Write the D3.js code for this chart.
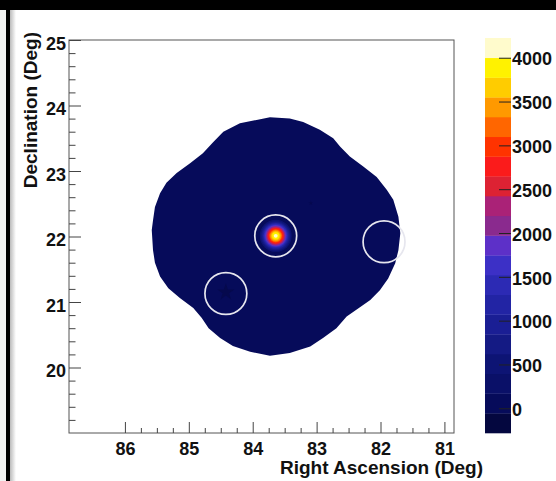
<!DOCTYPE html>
<html>
<head>
<meta charset="utf-8">
<script src="https://cdn.jsdelivr.net/npm/d3@7"></script>
<style>
  body { margin: 0; background: #fff; }
  svg { display: block; }
  text { font-family: "Liberation Sans", Arial, sans-serif; font-weight: bold; fill: #111; }
</style>
</head>
<body>
<svg id="chart" width="556" height="481"></svg>
<script>
// axis ticks
var raTicks = [86, 85, 84, 83, 82, 81];
var decTicks = [20, 21, 22, 23, 24, 25];
var zTicks = [0, 500, 1000, 1500, 2000, 2500, 3000, 3500, 4000];
var zRange = [-282, 4225];

// 20 colour levels, lowest first
var palette = ["#04073f", "#060b5a", "#0a1068", "#0d1474", "#141a84", "#1a1e94", "#2224a4",
  "#2c2ab4", "#3c30c6", "#5d30c8", "#8a2a8e", "#aa2277", "#dd2233", "#fb1b1b", "#ff3300",
  "#ff6600", "#ff9900", "#ffcc00", "#fff200", "#fffbcc"];

// outline of the exposed sky region (RA, Dec)
var regionRA = [83.73, 83.42, 83.21, 82.95, 82.74, 82.63, 82.48, 82.27, 82.06, 81.90, 81.80, 81.72,
  81.69, 81.72, 81.77, 81.88, 82.01, 82.16, 82.35, 82.53, 82.69, 82.90, 83.10, 83.42, 83.73,
  84.04, 84.31, 84.51, 84.69, 84.80, 84.93, 85.14, 85.32, 85.45, 85.53, 85.56, 85.58, 85.56,
  85.53, 85.45, 85.35, 85.19, 84.98, 84.78, 84.62, 84.46, 84.20, 83.94];
var regionDec = [23.82, 23.80, 23.75, 23.63, 23.50, 23.37, 23.22, 23.07, 22.91, 22.71, 22.56, 22.30,
  22.05, 21.79, 21.59, 21.36, 21.18, 21.03, 20.90, 20.78, 20.60, 20.45, 20.32, 20.22, 20.18,
  20.24, 20.33, 20.45, 20.60, 20.76, 20.91, 21.06, 21.21, 21.39, 21.60, 21.79, 22.10, 22.25,
  22.45, 22.66, 22.82, 22.97, 23.12, 23.27, 23.44, 23.60, 23.73, 23.78];
var backgroundValue = 0;

// bright source: radius (deg) out to which each value holds
var hotRA = 83.64, hotDec = 22.01;
var hotRadius = [0.244, 0.224, 0.209, 0.195, 0.183, 0.171, 0.160, 0.150, 0.139, 0.128, 0.118,
  0.107, 0.096, 0.084, 0.069, 0.053, 0.030];
var hotValue = [400, 650, 900, 1100, 1350, 1550, 1800, 2000, 2250, 2450, 2700, 2900, 3150, 3350,
  3600, 3800, 4100];

// marked source circles and markers
var circleRA = [83.64, 81.945, 84.42];
var circleDec = [22.01, 21.92, 21.13];
var circleRadius = 0.32;
var markerRA = [84.42, 83.09];
var markerDec = [21.15, 22.51];
var markerValue = [-150, -150];

(function() {
  var svg = d3.select("#chart");
  var plotL = 69, plotR = 454, plotT = 40, plotB = 433;

  // page border
  svg.append("rect").attr("x", 0).attr("y", 0).attr("width", 556).attr("height", 10).attr("fill", "#000");
  svg.append("rect").attr("x", 0).attr("y", 10).attr("width", 6).attr("height", 471).attr("fill", "#f2f3f2");
  svg.append("rect").attr("x", 6).attr("y", 10).attr("width", 4).attr("height", 471).attr("fill", "#000");
  var grad = svg.append("defs").append("linearGradient").attr("id", "shade");
  grad.append("stop").attr("offset", 0).attr("stop-color", "#bbb");
  grad.append("stop").attr("offset", 1).attr("stop-color", "#fff");
  svg.append("rect").attr("x", 10).attr("y", 10).attr("width", 6).attr("height", 471).attr("fill", "url(#shade)");

  var x = d3.scaleLinear().domain([86.875, 80.85]).range([plotL, plotR]);
  var y = d3.scaleLinear().domain([19, 25]).range([plotB, plotT]);
  var color = d3.scaleQuantize().domain(zRange).range(palette);
  var pxPerDeg = y(0) - y(1);

  // sky region
  var region = d3.zip(regionRA, regionDec);
  svg.append("path")
    .attr("d", d3.line().x(d => x(d[0])).y(d => y(d[1])).curve(d3.curveLinearClosed)(region))
    .attr("fill", color(backgroundValue));

  // bright source rings
  svg.selectAll(".ring")
    .data(d3.zip(hotRadius, hotValue))
    .enter()
    .append("circle")
    .attr("cx", x(hotRA))
    .attr("cy", y(hotDec))
    .attr("r", d => d[0] * pxPerDeg)
    .attr("fill", d => color(d[1]));

  // markers (faint)
  svg.selectAll(".marker")
    .data(d3.zip(markerRA, markerDec, markerValue))
    .enter()
    .append("path")
    .attr("transform", d => "translate(" + x(d[0]) + "," + y(d[1]) + ")")
    .attr("d", (d, i) => d3.symbol().type(d3.symbolStar).size(i == 0 ? 90 : 6)())
    .attr("fill", d => color(d[2]))
    .attr("opacity", 0.45);

  // source circles
  svg.selectAll(".src")
    .data(d3.zip(circleRA, circleDec))
    .enter()
    .append("circle")
    .attr("cx", d => x(d[0]))
    .attr("cy", d => y(d[1]))
    .attr("r", circleRadius * pxPerDeg)
    .attr("fill", "none")
    .attr("stroke", "#e6e6ee")
    .attr("stroke-width", 1.7);

  // frame
  svg.append("rect")
    .attr("x", plotL).attr("y", plotT)
    .attr("width", plotR - plotL).attr("height", plotB - plotT)
    .attr("fill", "none").attr("stroke", "#555").attr("stroke-width", 1);

  function styleAxis(g, size) {
    g.select(".domain").remove();
    g.selectAll("line").attr("stroke", "#444");
    g.attr("font-family", null).attr("font-size", null);
    g.selectAll("text").style("font-size", size + "px");
  }

  // x axis
  var raMinor = d3.range(81, 86.01, 0.25).filter(v => Math.abs(v - Math.round(v)) > 0.01);
  svg.append("g").attr("transform", "translate(0," + plotB + ")")
    .call(d3.axisBottom(x).tickValues(raMinor).tickSizeInner(-5).tickSizeOuter(0).tickFormat(""))
    .call(g => styleAxis(g, 18));
  svg.append("g").attr("transform", "translate(0," + plotB + ")")
    .call(d3.axisBottom(x).tickValues(raTicks).tickSizeInner(-11).tickSizeOuter(0).tickPadding(9).tickFormat(d3.format("d")))
    .call(g => styleAxis(g, 18));

  // y axis
  var decMinor = d3.range(19.2, 24.9, 0.2).filter(v => Math.abs(v - Math.round(v)) > 0.01);
  svg.append("g").attr("transform", "translate(" + plotL + ",0)")
    .call(d3.axisLeft(y).tickValues(decMinor).tickSizeInner(-6.5).tickSizeOuter(0).tickFormat(""))
    .call(g => styleAxis(g, 18));
  svg.append("g").attr("transform", "translate(" + plotL + ",0)")
    .call(d3.axisLeft(y).tickValues(decTicks).tickSizeInner(-12).tickSizeOuter(0).tickPadding(3).tickFormat(d3.format("d")))
    .call(g => styleAxis(g, 18))
    .call(g => g.selectAll("text").attr("dy", "0.5em"));

  // colour bar
  var barL = 485, barR = 511;
  var z = d3.scaleLinear().domain(zRange).range([plotB, 38]);
  var bands = palette.map(c => color.invertExtent(c));
  svg.selectAll(".band")
    .data(bands)
    .enter()
    .append("rect")
    .attr("x", barL)
    .attr("width", barR - barL)
    .attr("y", d => z(d[1]))
    .attr("height", d => z(d[0]) - z(d[1]) + 0.3)
    .attr("fill", d => color((d[0] + d[1]) / 2));
  svg.append("g").attr("transform", "translate(" + barR + ",0)")
    .call(d3.axisRight(z).tickValues(zTicks).tickSizeInner(-12).tickSizeOuter(0).tickPadding(1).tickFormat(d3.format("d")))
    .call(g => styleAxis(g, 18))
    .call(g => g.selectAll("line").attr("stroke", "#222"))
    .call(g => g.selectAll("text").attr("dy", "0.4em"));

  // axis titles
  svg.append("text")
    .attr("x", 483).attr("y", 474)
    .attr("text-anchor", "end")
    .style("font-size", "19px")
    .text("Right Ascension (Deg)");
  svg.append("text")
    .attr("transform", "translate(37,32) rotate(-90)")
    .attr("text-anchor", "end")
    .style("font-size", "19px")
    .text("Declination (Deg)");
})();
</script>
</body>
</html>
